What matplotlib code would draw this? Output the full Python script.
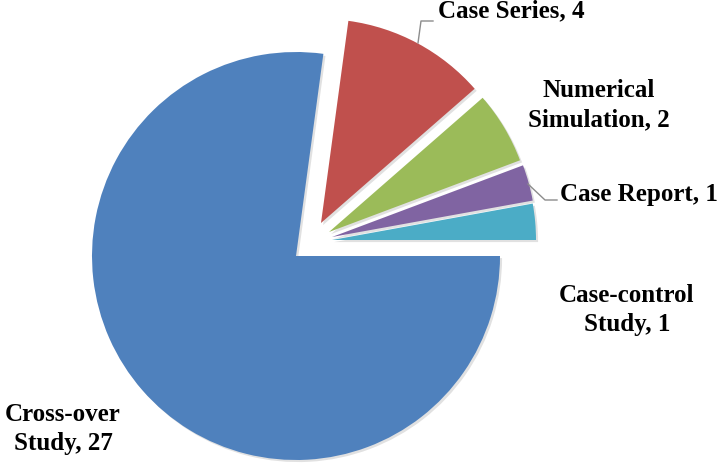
import matplotlib
matplotlib.use("Agg")
import matplotlib.pyplot as plt
import matplotlib.patheffects as pe

categories = ["Cross-over Study", "Case Series", "Numerical Simulation", "Case Report", "Case-control Study"]
counts = [27, 4, 2, 1, 1]
label_texts = ["Cross-over\nStudy, 27", "Case Series, 4", "Numerical\nSimulation, 2", "Case Report, 1", "Case-control\nStudy, 1"]
colors = ["#4F81BD", "#C0504D", "#9BBB59", "#8064A2", "#4BACC6"]

W, H = 728, 476
CX, CY, R = 296, 256, 204

fig = plt.figure(figsize=(W / 100, H / 100), dpi=100)
ax = fig.add_axes([0, 0, 1, 1])


def p2d(px, py):
    return ((px - CX) / R, (CY - py) / R)


wedges, _ = ax.pie(counts, colors=colors, startangle=0, counterclock=False,
                   radius=1.0, center=(0, 0), frame=True,
                   wedgeprops=dict(linewidth=0))
# individual slice offsets (pixels, as in reference)
offsets_px = [(0, 0), (25, 33), (33, 24), (36, 19), (36, 16)]
for w, (dx, dy) in zip(wedges, offsets_px):
    w.set_center((dx / R, dy / R))
    w.set_path_effects([pe.SimplePatchShadow(offset=(1.5, -1.5), shadow_rgbFace="#888888", alpha=0.25),
                        pe.Normal()])

ax.set_xlim(-CX / R, (W - CX) / R)
ax.set_ylim(-(H - CY) / R, CY / R)
ax.set_aspect("equal")
ax.axis("off")

font = dict(family="Liberation Serif", fontweight="bold", fontsize=18, color="black")

# label placement: (x px, first baseline px, align)
pos = {
    0: (63, 421, "center"),
    1: (438, 17, "left"),
    2: (599, 97, "center"),
    3: (560, 201, "left"),
    4: (627, 302, "center"),
}
LS = 29
for i, txt in enumerate(label_texts):
    px, py, ha = pos[i]
    for k, line in enumerate(txt.split("\n")):
        x, y = p2d(px, py + k * LS)
        ax.text(x, y, line, ha=ha, va="baseline", **font)

# leader lines
lines = [
    [(418, 43), (421, 21), (433, 21)],
    [(528, 184), (545, 200), (557, 200)],
]
for pts in lines:
    xs, ys = zip(*[p2d(a, b) for a, b in pts])
    ax.plot(xs, ys, color="#8C8C8C", linewidth=1.0)

fig.savefig("out.png", dpi=100)
